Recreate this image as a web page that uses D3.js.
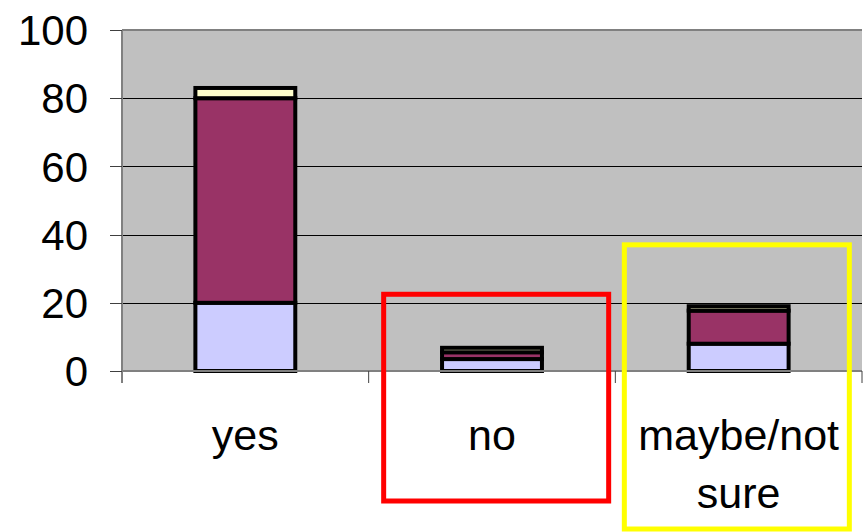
<!DOCTYPE html>
<html>
<head>
<meta charset="utf-8">
<script src="https://cdn.jsdelivr.net/npm/d3@7"></script>
<style>
  html, body { margin: 0; padding: 0; background: #fff; }
  svg { display: block; }
  text { font-family: "Liberation Sans", Arial, sans-serif; fill: #000; }
</style>
</head>
<body>
<svg id="chart" width="863" height="532"></svg>
<script>
// Data
const categories = ['yes', 'no', 'maybe/not sure'];
const categoryLines = [['yes'], ['no'], ['maybe/not', 'sure']];
const seriesKeys = ['s1', 's2', 's3'];
const series1 = [20, 3.5, 8];   // light blue (bottom)
const series2 = [60, 2, 9.7];   // maroon
const series3 = [3, 1.3, 1.3];  // cream (top)
const yTicks = [0, 20, 40, 60, 80, 100];
const seriesColors = ['#CCCCFF', '#993366', '#FFFFCC'];

// highlight boxes drawn over the chart
const highlights = [
  { cat: 'no', color: '#FF0000', top: 22.5, bottom: 501, dx: 15 },
  { cat: 'maybe/not sure', color: '#FFFF00', top: 37, bottom: 529, dx: 9 }
];

const plot = { left: 122, right: 862, top: 30, bottom: 371 };

const svg = d3.select('#chart');

const x = d3.scaleBand().domain(categories).range([plot.left, plot.right]).padding(0);
const y = d3.scaleLinear().domain([0, 100]).range([plot.bottom, plot.top]);
const barW = x.bandwidth() * 0.405;

// plot background
svg.append('rect')
  .attr('x', plot.left).attr('y', plot.top)
  .attr('width', plot.right - plot.left).attr('height', plot.bottom - plot.top)
  .attr('fill', '#C0C0C0');

// gridlines
svg.append('g')
  .selectAll('line').data(yTicks.filter(t => t > 0 && t < 100)).join('line')
  .attr('x1', plot.left).attr('x2', plot.right)
  .attr('y1', d => Math.round(y(d)) + 0.5).attr('y2', d => Math.round(y(d)) + 0.5)
  .attr('stroke', '#000').attr('stroke-width', 1);

// plot border top
svg.append('line')
  .attr('x1', plot.left).attr('x2', plot.right)
  .attr('y1', plot.top).attr('y2', plot.top)
  .attr('stroke', '#808080').attr('stroke-width', 2);

// stacked bars
const rows = categories.map((c, i) => ({ cat: c, s1: series1[i], s2: series2[i], s3: series3[i] }));
const stacked = d3.stack().keys(seriesKeys)(rows);

svg.append('g')
  .selectAll('g').data(stacked).join('g')
  .attr('fill', (d, i) => seriesColors[i])
  .selectAll('rect').data(d => d).join('rect')
  .attr('x', d => x(d.data.cat) + (x.bandwidth() - barW) / 2)
  .attr('y', d => y(d[1]))
  .attr('width', barW)
  .attr('height', d => y(d[0]) - y(d[1]))
  .attr('stroke', '#000')
  .attr('stroke-width', 4);

// y axis
const yAxis = svg.append('g');
yAxis.append('line')
  .attr('x1', plot.left).attr('x2', plot.left)
  .attr('y1', plot.top).attr('y2', plot.bottom + 12)
  .attr('stroke', '#808080').attr('stroke-width', 2);
yAxis.selectAll('line.tick').data(yTicks).join('line')
  .attr('class', 'tick')
  .attr('x1', plot.left - 12).attr('x2', plot.left)
  .attr('y1', d => Math.round(y(d)) + 0.5).attr('y2', d => Math.round(y(d)) + 0.5)
  .attr('stroke', '#404040').attr('stroke-width', 1);
yAxis.selectAll('text').data(yTicks).join('text')
  .attr('x', 88)
  .attr('y', d => y(d))
  .attr('dy', '0.36em')
  .attr('text-anchor', 'end')
  .attr('font-size', 42)
  .text(d => d);

// x axis
const xAxis = svg.append('g');
xAxis.append('line')
  .attr('x1', plot.left).attr('x2', plot.right)
  .attr('y1', plot.bottom).attr('y2', plot.bottom)
  .attr('stroke', '#808080').attr('stroke-width', 2);
xAxis.selectAll('line.tick').data(categories.slice(1).concat(['__end'])).join('line')
  .attr('class', 'tick')
  .attr('x1', d => d === '__end' ? plot.right : x(d))
  .attr('x2', d => d === '__end' ? plot.right : x(d))
  .attr('y1', plot.bottom).attr('y2', plot.bottom + 12)
  .attr('stroke', '#404040').attr('stroke-width', 1);

xAxis.selectAll('text').data(categories).join('text')
  .attr('text-anchor', 'middle')
  .attr('font-size', 43)
  .each(function (d, i) {
    const t = d3.select(this);
    categoryLines[i].forEach((line, j) => {
      t.append('tspan')
        .attr('x', x(d) + x.bandwidth() / 2)
        .attr('y', 450 + j * 58)
        .text(line);
    });
  });

// highlight boxes
svg.append('g')
  .selectAll('rect').data(highlights).join('rect')
  .attr('x', d => x(d.cat) + d.dx)
  .attr('y', d => y(d.top))
  .attr('width', 225)
  .attr('height', d => d.bottom - y(d.top))
  .attr('fill', 'none')
  .attr('stroke', d => d.color)
  .attr('stroke-width', 5);
</script>
</body>
</html>
